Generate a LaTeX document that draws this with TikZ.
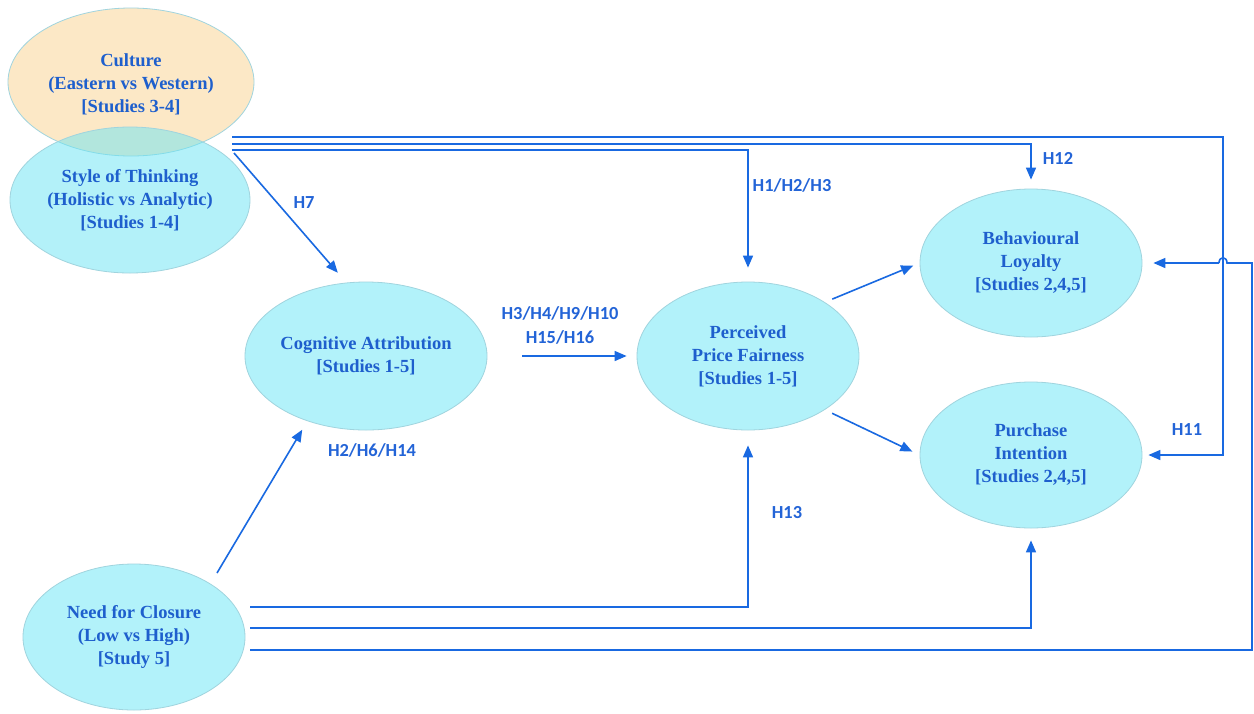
\documentclass[tikz,border=0pt]{standalone}
\usepackage{fontspec}
\setmainfont{Liberation Serif}
\newfontfamily\lblfont{Carlito}
\usetikzlibrary{arrows.meta,shapes.geometric}
\definecolor{textblue}{RGB}{30,95,205}
\definecolor{linecol}{RGB}{25,105,225}
\definecolor{lblcol}{RGB}{35,100,215}
\definecolor{cyanfill}{RGB}{178,242,250}
\definecolor{cyanhalf}{RGB}{105,229,245}
\definecolor{peach}{RGB}{252,232,198}
\definecolor{ellborder}{RGB}{160,212,222}
\begin{document}
\begin{tikzpicture}[x=1pt,y=-1pt,
  ell/.style={ellipse, draw=ellborder, line width=0.8pt, fill=cyanfill, inner sep=0pt,
    align=center, font=\fontsize{18.5}{23}\selectfont\bfseries, text=textblue},
  arr/.style={draw=linecol, line width=1.6pt, -{Triangle[length=12pt,width=10pt]}},
  plain/.style={draw=linecol, line width=1.6pt},
  lbl/.style={font=\lblfont\fontsize{18.4}{22}\selectfont\bfseries, text=lblcol, inner sep=1pt}]
\fill[white] (0,0) rectangle (1254,713);
\useasboundingbox (0,0) rectangle (1254,713);
% ellipses
\node[ell, fill=peach, minimum width=246pt, minimum height=148pt] (cult) at (131,82) {};
\node[ell, fill=cyanhalf, fill opacity=0.5, text opacity=1, minimum width=240pt, minimum height=146pt] (style) at (130,200)
  {Style of Thinking\\(Holistic vs Analytic)\\{[}Studies 1-4{]}};
\node[align=center, font=\fontsize{18.5}{23}\selectfont\bfseries, text=textblue] (culttxt) at (131,84)
  {Culture\\(Eastern vs Western)\\{[}Studies 3-4{]}};
\node[ell, minimum width=208pt, minimum height=148pt] (cog) at (366,356)
  {Cognitive Attribution\\{[}Studies 1-5{]}};
\node[ell, minimum width=222pt, minimum height=148pt] (ppf) at (748,356)
  {Perceived\\Price Fairness\\{[}Studies 1-5{]}};
\node[ell, minimum width=222pt, minimum height=148pt] (beh) at (1031,263)
  {Behavioural\\Loyalty\\{[}Studies 2,4,5{]}};
\node[ell, minimum width=222pt, minimum height=146pt] (pi) at (1031,455)
  {Purchase\\Intention\\{[}Studies 2,4,5{]}};
\node[ell, minimum width=222pt, minimum height=146pt] (need) at (134,637)
  {Need for Closure\\(Low vs High)\\{[}Study 5{]}};
% start / corner coordinates
\coordinate (s1) at (232,137);
\coordinate (s2) at (232,144);
\coordinate (s3) at (232,150);
\coordinate (s4) at (234,153);
\coordinate (n0) at (217,573);
\coordinate (n1) at (250,607);
\coordinate (n2) at (250,628);
\coordinate (n3) at (250,650);
\coordinate (rc2) at (1223,300);
\coordinate (rc) at (1252,400);
\coordinate (jr) at (1227,263);
\coordinate (jl) at (1219,263);
% connectors
\draw[arr, shorten >=6pt] (s1) -| (rc2) |- (pi.east);
\draw[arr, shorten >=9pt] (s2) -| (beh.north);
\draw[arr, shorten >=14pt] (s3) -| (ppf.north);
\draw[arr, shorten >=13pt] (s4) -- (cog.105);
\draw[arr, shorten <=35pt, shorten >=10pt] (cog.east) -- (ppf.west);
\draw[arr, shorten <=8pt, shorten >=7pt] (ppf.35) -- (beh.west);
\draw[arr, shorten <=8pt, shorten >=8pt] (ppf.-35) -- (pi.west);
\draw[arr, shorten >=10pt] (n0) -- (cog.228);
\draw[arr, shorten >=15pt] (n1) -| (ppf.south);
\draw[arr, shorten >=12pt] (n2) -| (pi.south);
\draw[plain] (n3) -| (rc) |- (jr) .. controls (1227,256) and (1219,256) .. (jl);
\draw[arr, shorten >=11pt] (jl) -- (beh.east);
% labels
\node[lbl] (h7) at (304,203) {H7};
\node[lbl] (h123) at (792,185) {H1/H2/H3};
\node[lbl] (h12) at (1058,158) {H12};
\node[lbl] (h3a) at (560,313) {H3/H4/H9/H10};
\node[lbl] (h3b) at (560,337) {H15/H16};
\node[lbl] (h2) at (372,450) {H2/H6/H14};
\node[lbl] (h13) at (787,513) {H13};
\node[lbl] (h11) at (1187,430) {H11};
\end{tikzpicture}
\end{document}
